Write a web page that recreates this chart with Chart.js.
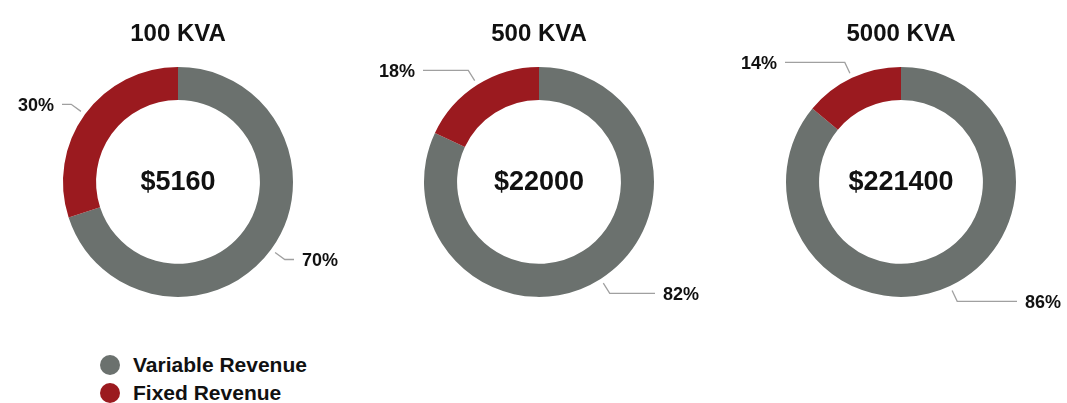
<!DOCTYPE html>
<html>
<head>
<meta charset="utf-8">
<script src="https://cdn.jsdelivr.net/npm/chart.js@4.4.1/dist/chart.umd.min.js"></script>
<style>
  body { margin: 0; width: 1067px; height: 403px; overflow: hidden; background: #fff; position: relative; font-family: "Liberation Sans", Arial, sans-serif; }
  canvas { position: absolute; top: 0; }
  #legend { position: absolute; left: 100px; top: 351px; font-weight: bold; font-size: 21px; color: #111; }
  #legend div { height: 28px; line-height: 28px; display: flex; align-items: center; }
  #legend span.dot { width: 20px; height: 20px; border-radius: 50%; display: inline-block; margin-right: 13px; }
</style>
</head>
<body>
<canvas id="c1" width="340" height="310" style="left:8px"></canvas>
<canvas id="c2" width="340" height="310" style="left:369px"></canvas>
<canvas id="c3" width="340" height="310" style="left:731px"></canvas>
<div id="legend"></div>
<script>
const titles = ["100 KVA", "500 KVA", "5000 KVA"];
const totals = [5160, 22000, 221400];
const labels = ["Variable Revenue", "Fixed Revenue"];
const variableRevenue = [70, 82, 86];
const fixedRevenue = [30, 18, 14];
const colors = ["#6b716e", "#9b1a1f"];

const fontName = "'Liberation Sans', Arial, sans-serif";

// leader lines, percent labels and the total in the middle
const ringLabels = {
    id: "ringLabels",
    afterDatasetsDraw(chart, args, opts) {
        const ctx = chart.ctx;
        const meta = chart.getDatasetMeta(0);
        const data = chart.data.datasets[0].data;
        const sum = data.reduce((a, b) => a + b, 0);
        ctx.save();
        meta.data.forEach((arc, i) => {
            const p = arc.getProps(["x", "y", "startAngle", "endAngle", "outerRadius"], true);
            const mid = (p.startAngle + p.endAngle) / 2;
            const cos = Math.cos(mid), sin = Math.sin(mid);
            const x1 = p.x + cos * (p.outerRadius + 5), y1 = p.y + sin * (p.outerRadius + 5);
            const x2 = p.x + cos * (p.outerRadius + 17), y2 = p.y + sin * (p.outerRadius + 17);
            const dir = cos < 0 ? -1 : 1;
            const x3 = p.x + dir * Math.max(p.outerRadius + 1, Math.abs(x2 - p.x) + 8);
            ctx.strokeStyle = "#a0a0a0";
            ctx.lineWidth = 1.3;
            ctx.beginPath();
            ctx.moveTo(x1, y1);
            ctx.lineTo(x2, y2);
            ctx.lineTo(x3, y2);
            ctx.stroke();
            ctx.fillStyle = "#111";
            ctx.font = "bold 18px " + fontName;
            ctx.textBaseline = "middle";
            ctx.textAlign = dir < 0 ? "right" : "left";
            ctx.fillText(Math.round(data[i] / sum * 100) + "%", x3 + dir * 8, y2 + 2);
        });
        const c = meta.data[0];
        ctx.font = "bold 27px " + fontName;
        ctx.textAlign = "center";
        ctx.textBaseline = "middle";
        ctx.fillStyle = "#111";
        ctx.fillText(opts.total, c.x, c.y + 1);
        ctx.restore();
    }
};

function lagRing(id, i) {
    new Chart(document.getElementById(id), {
        type: "doughnut",
        data: {
            labels: labels,
            datasets: [{
                data: [variableRevenue[i], fixedRevenue[i]],
                backgroundColor: colors,
                borderWidth: 0,
                hoverOffset: 0
            }]
        },
        options: {
            responsive: false,
            animation: false,
            radius: 115,
            cutout: 82,
            layout: { padding: { bottom: 13 } },
            plugins: {
                legend: { display: false },
                tooltip: { enabled: false },
                title: {
                    display: true,
                    text: titles[i],
                    color: "#111",
                    font: { family: fontName, size: 24, weight: "bold" },
                    padding: { top: 20, bottom: 18 }
                },
                ringLabels: { total: "$" + totals[i] }
            }
        },
        plugins: [ringLabels]
    });
}

lagRing("c1", 0);
lagRing("c2", 1);
lagRing("c3", 2);

// legend
const legendEl = document.getElementById("legend");
labels.forEach((l, i) => {
    const row = document.createElement("div");
    row.innerHTML = '<span class="dot" style="background:' + colors[i] + '"></span>' + l;
    legendEl.appendChild(row);
});
</script>
</body>
</html>
